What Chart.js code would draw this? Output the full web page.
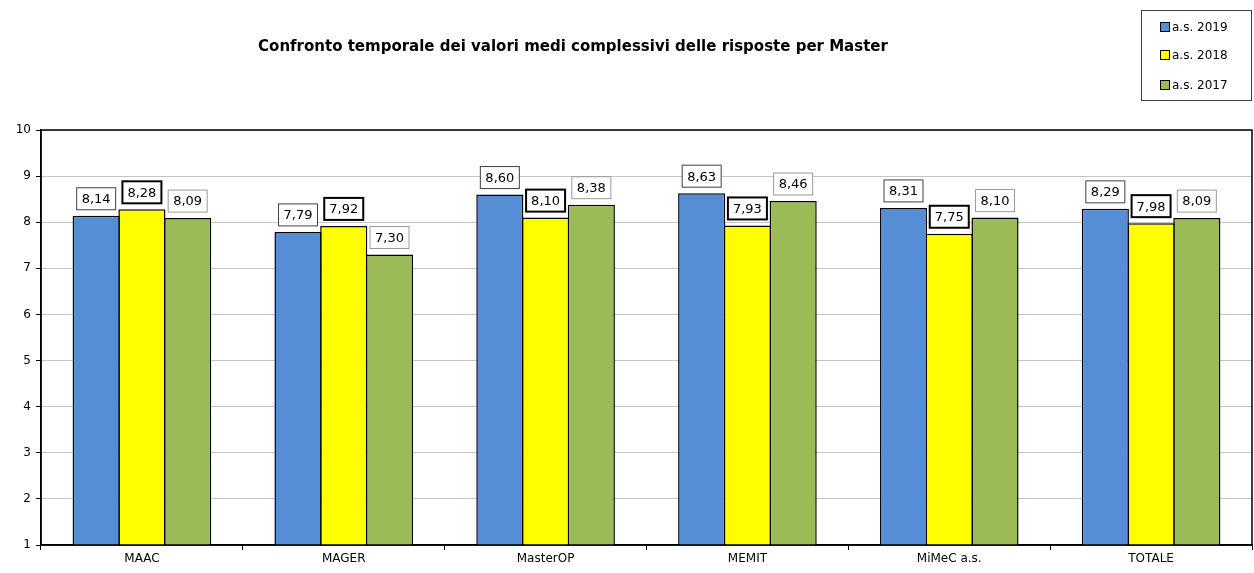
<!DOCTYPE html>
<html>
<head>
<meta charset="utf-8">
<script src="https://cdn.jsdelivr.net/npm/chart.js@4/dist/chart.umd.min.js"></script>
<style>
  html, body { margin: 0; padding: 0; background: #fff; }
  #wrap { width: 1254px; height: 573px; }
</style>
</head>
<body>
<div id="wrap"><canvas id="grafico" width="1254" height="573"></canvas></div>
<script>
// Dati
const categorie = ['MAAC', 'MAGER', 'MasterOP', 'MEMIT', 'MiMeC a.s.', 'TOTALE'];
const valori2019 = [8.14, 7.79, 8.60, 8.63, 8.31, 8.29];
const valori2018 = [8.28, 7.92, 8.10, 7.93, 7.75, 7.98];
const valori2017 = [8.09, 7.30, 8.38, 8.46, 8.10, 8.09];
const etichetteSerie = ['a.s. 2019', 'a.s. 2018', 'a.s. 2017'];
const titolo = 'Confronto temporale dei valori medi complessivi delle risposte per Master';

const FONT = "'Comic Sans MS', 'DejaVu Sans', sans-serif";
const colori = ['#558ED5', '#FFFF00', '#9BBB59'];
// bordo delle etichette: blu sottile scuro, giallo spesso nero, verde grigio chiaro
const bordiEtichette = [{ c: '#404040', w: 1 }, { c: '#000000', w: 2 }, { c: '#9a9a9a', w: 1 }];

// Plugin: cornice, titolo, legenda ed etichette dei valori
const decorazioni = {
    id: 'decorazioni',
    afterDatasetsDraw(chart) {
        const ctx = chart.ctx;
        const area = chart.chartArea;
        ctx.save();

        // cornice area del grafico
        ctx.strokeStyle = '#000';
        ctx.lineWidth = 1.5;
        ctx.strokeRect(area.left, area.top, area.right - area.left, area.bottom - area.top);

        // etichette dei valori
        ctx.font = '13px ' + FONT;
        ctx.textAlign = 'center';
        ctx.textBaseline = 'middle';
        chart.data.datasets.forEach((ds, i) => {
            const meta = chart.getDatasetMeta(i);
            meta.data.forEach((bar, j) => {
                const testo = ds.data[j].toFixed(2).replace('.', ',');
                const w = 39, h = 22;
                const x = bar.x - w / 2;
                const y = bar.y - 6 - h;
                ctx.fillStyle = '#fff';
                ctx.fillRect(x, y, w, h);
                ctx.strokeStyle = bordiEtichette[i].c;
                ctx.lineWidth = bordiEtichette[i].w;
                ctx.strokeRect(x, y, w, h);
                ctx.fillStyle = '#000';
                ctx.fillText(testo, bar.x, y + h / 2 + 1);
            });
        });

        // titolo
        ctx.font = 'bold 15px ' + FONT;
        ctx.fillStyle = '#000';
        ctx.textAlign = 'center';
        ctx.fillText(titolo, 573, 47);

        // legenda
        ctx.strokeStyle = '#404040';
        ctx.lineWidth = 1;
        ctx.strokeRect(1141.5, 10.5, 110, 90);
        ctx.font = '12px ' + FONT;
        ctx.textAlign = 'left';
        const posY = [27, 55, 85];
        etichetteSerie.forEach((et, i) => {
            ctx.fillStyle = colori[i];
            ctx.fillRect(1160, posY[i] - 5, 10, 10);
            ctx.strokeStyle = '#000';
            ctx.strokeRect(1160.5, posY[i] - 4.5, 9, 9);
            ctx.fillStyle = '#000';
            ctx.fillText(et, 1172, posY[i] + 1);
        });

        ctx.restore();
    }
};

function crearGrafico() {
    const el = document.getElementById('grafico');
    if (!el) {
        console.error("Canvas 'grafico' non trovato.");
        return;
    }
    const serie = [valori2019, valori2018, valori2017];
    new Chart(el.getContext('2d'), {
        type: 'bar',
        data: {
            labels: categorie,
            datasets: serie.map((dati, i) => ({
                label: etichetteSerie[i],
                data: dati,
                backgroundColor: colori[i],
                borderColor: '#000',
                borderWidth: 1.5,
                categoryPercentage: 0.68,
                barPercentage: 1.03
            }))
        },
        options: {
            responsive: false,
            animation: false,
            layout: { padding: { top: 130, right: 2, left: 0, bottom: 0 } },
            plugins: {
                legend: { display: false },
                title: { display: false },
                tooltip: { enabled: false }
            },
            scales: {
                x: {
                    offset: true,
                    afterFit: s => { s.height = 28; },
                    border: { display: true, color: '#000', width: 1.5 },
                    grid: {
                        offset: true,
                        drawOnChartArea: false,
                        drawTicks: true,
                        tickLength: 5,
                        tickColor: '#000'
                    },
                    ticks: {
                        color: '#000',
                        font: { family: FONT, size: 12 },
                        padding: 2
                    }
                },
                y: {
                    min: 1,
                    max: 10,
                    afterFit: s => { s.width = 41; },
                    border: { display: true, color: '#000', width: 1.5, dash: [1, 1] },
                    grid: {
                        color: '#8a8a8a',
                        lineWidth: 1,
                        drawTicks: true,
                        tickLength: 5,
                        tickColor: '#000'
                    },
                    ticks: {
                        stepSize: 1,
                        color: '#000',
                        font: { family: FONT, size: 12 },
                        padding: 5
                    }
                }
            }
        },
        plugins: [decorazioni]
    });
}

document.addEventListener('DOMContentLoaded', crearGrafico);
</script>
</body>
</html>
